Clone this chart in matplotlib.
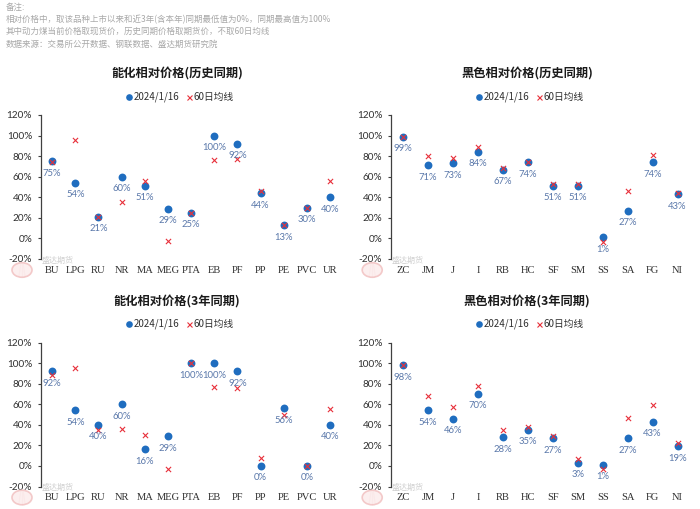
import matplotlib
matplotlib.use("Agg")
import matplotlib.pyplot as plt
from matplotlib.patches import Circle
import numpy as np

plt.rcParams['font.family'] = ['Noto Sans CJK SC', 'DejaVu Sans']

# ---------------- data ----------------
header_lines = [
    "备注:",
    "相对价格中，取该品种上市以来和近3年(含本年)同期最低值为0%，同期最高值为100%",
    "其中动力煤当前价格取现货价，历史同期价格取期货价，不取60日均线",
    "数据来源：交易所公开数据、钢联数据、盛达期货研究院",
]
legend_labels = ["2024/1/16", "60日均线"]

chem_cats = ["BU", "LPG", "RU", "NR", "MA", "MEG", "PTA", "EB", "PF", "PP", "PE", "PVC", "UR"]
black_cats = ["ZC", "JM", "J", "I", "RB", "HC", "SF", "SM", "SS", "SA", "FG", "NI"]

chem_hist_now = [75, 54, 21, 60, 51, 29, 25, 100, 92, 44, 13, 30, 40]
chem_hist_ma = [74, 96, 21, 35.5, 55.5, -2.5, 25, 76.5, 77, 46, 13, 30, 55.5]

black_hist_now = [99, 71, 73, 84, 67, 74, 51, 51, 1, 27, 74, 43]
black_hist_ma = [99, 80, 78, 88.5, 68.5, 74.5, 52.5, 52.5, -3, 46, 81, 44.5]

chem_3y_now = [92, 54, 40, 60, 16, 29, 100, 100, 92, 0, 56, 0, 40]
chem_3y_ma = [88, 95.5, 34.5, 35.5, 30, -3, 100, 76.5, 76, 8, 49.5, 0, 55.5]

black_3y_now = [98, 54, 46, 70, 28, 35, 27, 3, 1, 27, 43, 19]
black_3y_ma = [98, 68, 57, 78, 34.5, 38, 29, 7, -3, 46.5, 59, 22]

titles = ["能化相对价格(历史同期)", "黑色相对价格(历史同期)",
          "能化相对价格(3年同期)", "黑色相对价格(3年同期)"]
yticks = [-20, 0, 20, 40, 60, 80, 100, 120]
watermark_text = "盛达期货"

panels = [
    (chem_cats, chem_hist_now, chem_hist_ma, titles[0]),
    (black_cats, black_hist_now, black_hist_ma, titles[1]),
    (chem_cats, chem_3y_now, chem_3y_ma, titles[2]),
    (black_cats, black_3y_now, black_3y_ma, titles[3]),
]

# ---------------- style ----------------
W, H = 700, 509
fig = plt.figure(figsize=(W / 100, H / 100), dpi=100)
fig.patch.set_facecolor("white")

dot_color = "#1F6DBF"
x_color = "#E8303A"
lab_color = "#5A78AA"
axis_color = "#404040"

# axes rects in pixel coordinates: (left, top, right, bottom)
rects = [
    (40.5, 115, 341.6, 259),
    (390.7, 115, 690.0, 259),
    (40.5, 342.5, 341.6, 486.5),
    (390.7, 342.5, 690.0, 486.5),
]
title_y = [73, 73, 301.5, 301.5]
legend_y = [97, 97, 324, 324]
title_x = [177, 527, 177, 527]

for i, (cats, now, ma, title) in enumerate(panels):
    l, t, r, b = rects[i]
    ax = fig.add_axes([l / W, 1 - b / H, (r - l) / W, (b - t) / H])
    xs = np.arange(len(cats))
    ax.scatter(xs, now, s=32, color=dot_color, zorder=3, linewidths=0)
    ax.scatter(xs, ma, s=14, marker="x", color=x_color, linewidths=0.8, zorder=4)
    for xv, v in zip(xs, now):
        ax.annotate(f"{v:.0f}%", (xv, v), xytext=(0, -8.6), textcoords="offset points",
                    ha="center", va="center", fontsize=6.8, color=lab_color,
                    family=["Lato", "DejaVu Sans"], zorder=5)
    ax.set_xlim(-0.5, len(cats) - 0.5)
    ax.set_ylim(-20, 120)
    ax.set_yticks(yticks)
    ax.set_yticklabels([f"{v}%" for v in yticks], family=["Lato", "DejaVu Sans"],
                       fontsize=7.2, color="#303030")
    ax.set_xticks(xs)
    ax.set_xticklabels(cats, family=["Liberation Serif", "DejaVu Serif"], fontsize=7.6,
                       color="#303030")
    ax.tick_params(axis="x", length=0, pad=5)
    ax.tick_params(axis="y", length=2.5, width=0.8, color=axis_color, pad=3.5)
    for s in ["top", "right", "bottom"]:
        ax.spines[s].set_visible(False)
    ax.spines["left"].set_color(axis_color)
    ax.spines["left"].set_linewidth(0.9)
    ax.set_facecolor("none")

    # title
    fig.text(title_x[i] / W, 1 - title_y[i] / H, title, ha="center", va="center",
             fontsize=8.8, fontweight="bold", color="#1a1a1a")
    # legend (manual, centered)
    ly = 1 - legend_y[i] / H
    cx = title_x[i]
    fig.lines.append(plt.Line2D([(cx - 48) / W], [ly], marker="o", markersize=4.8,
                                color=dot_color, linestyle="none", transform=fig.transFigure,
                                markeredgewidth=0))
    fig.text((cx - 43.5) / W, ly, legend_labels[0], ha="left", va="center", fontsize=7,
             color="#303030")
    fig.lines.append(plt.Line2D([(cx + 12) / W], [ly], marker="x", markersize=3.6,
                                color=x_color, linestyle="none", transform=fig.transFigure,
                                markeredgewidth=0.8))
    fig.text((cx + 17) / W, ly, legend_labels[1], ha="left", va="center", fontsize=7,
             color="#303030")

    # watermark (faint logo circle + text)
    wx = l - 18.5
    wy = b + 11
    fig.patches.append(Circle((wx / W, 1 - wy / H), 10 / W, transform=fig.transFigure,
                              facecolor="#FCEEEE", edgecolor="#F2C4C4", linewidth=1.2,
                              alpha=0.9, zorder=0))
    for dx in (-3, 0, 3):
        fig.lines.append(plt.Line2D([(wx + dx) / W, (wx + dx * 0.4) / W],
                                    [1 - (wy + 6) / H, 1 - (wy - 6) / H],
                                    color="#F0BDBD", linewidth=0.9,
                                    transform=fig.transFigure, zorder=0))
    fig.text((l + 1) / W, 1 - (b + 1) / H, watermark_text, ha="left", va="center",
             fontsize=5.8, color="#CFCFCF", zorder=0)

# header
for k, line in enumerate(header_lines):
    fig.text(6 / W, 1 - (7 + k * 12.3) / H, line, ha="left", va="center", fontsize=6.1,
             color="#A8A8A8", style="italic")

fig.savefig("out.png", dpi=100, facecolor="white")
